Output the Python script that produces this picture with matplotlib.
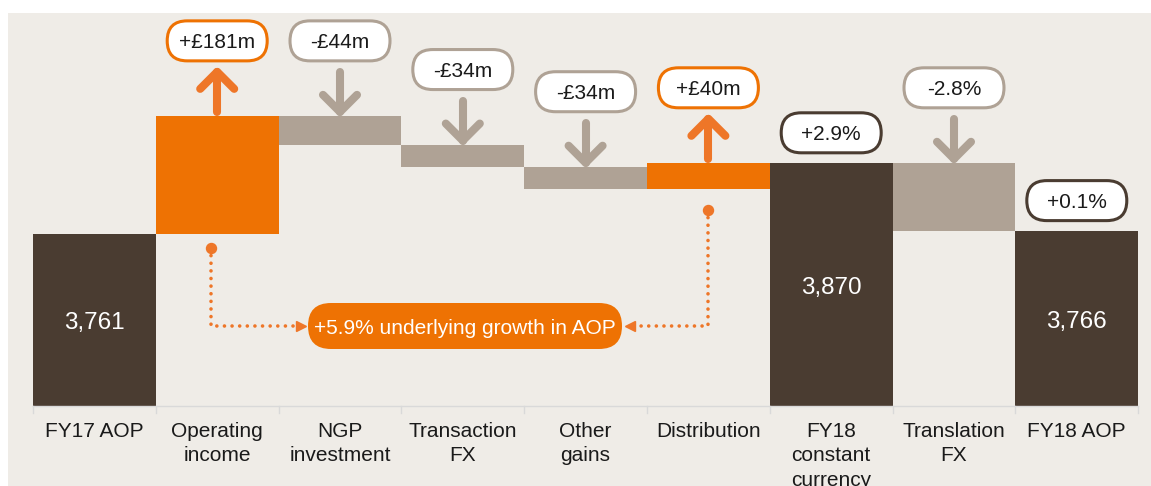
import matplotlib
matplotlib.use("Agg")
import matplotlib.pyplot as plt
from matplotlib.patches import FancyBboxPatch, Rectangle

plt.rcParams['font.family'] = ['Liberation Sans', 'DejaVu Sans']

# ---------------- data ----------------
categories = ["FY17 AOP", "Operating\nincome", "NGP\ninvestment", "Transaction\nFX",
              "Other\ngains", "Distribution", "FY18\nconstant\ncurrency",
              "Translation\nFX", "FY18 AOP"]
kinds = ["total", "delta", "delta", "delta", "delta", "delta", "total", "delta", "total"]
values = [3761, 181, -44, -34, -34, 40, 3870, -104, 3766]
change_labels = ["", "+£181m", "-£44m", "-£34m", "-£34m", "+£40m", "+2.9%", "-2.8%", "+0.1%"]
growth_label = "+5.9% underlying growth in AOP"

# ---------------- style ----------------
BROWN = "#4A3C31"
ORANGE = "#EE7203"
ARROW_OR = "#EE7628"
TAUPE = "#AFA295"
BG = "#EFECE7"
AXIS = "#D9D9D9"
TXT = "#1A1A1A"

W, H = 1151, 486
BASE = 3497          # value at the category axis line
X0_PX, STEP_PX = 33, 122.8
BASE_PX, SCALE = 406, 0.652

fig = plt.figure(figsize=(W / 100, H / 100), dpi=100, facecolor="white")
bg_rect = Rectangle((8 / W, 0), 1 - 8 / W, (H - 13) / H, transform=fig.transFigure,
                    facecolor=BG, edgecolor="none", zorder=-10)
fig.add_artist(bg_rect)

ax = fig.add_axes([0, 0, 1, 1])
ax.set_axis_off()
ax.patch.set_alpha(0)
ax.set_zorder(1)

bottoms, heights, colors = [], [], []
running = 0
for k, v in zip(kinds, values):
    if k == "total":
        running = v
        bottoms.append(BASE)
        heights.append(v - BASE)
        colors.append(BROWN)
    else:
        start = running
        running += v
        bottoms.append(min(start, running))
        heights.append(abs(v))
        colors.append(ORANGE if v > 0 else TAUPE)

xs = list(range(len(categories)))
ax.bar(xs, heights, bottom=bottoms, width=1.0, color=colors, linewidth=0, zorder=2)
ax.set_xlim(-0.5 - X0_PX / STEP_PX, -0.5 + (W - X0_PX) / STEP_PX)
ax.set_ylim(BASE - (H - BASE_PX) / SCALE, BASE + BASE_PX / SCALE)

# pixel overlay
axp = fig.add_axes([0, 0, 1, 1])
axp.set_xlim(0, W)
axp.set_ylim(H, 0)
axp.set_axis_off()
axp.patch.set_alpha(0)
axp.set_zorder(2)


def P(xd, yd):
    d = ax.transData.transform((xd, yd))
    return d[0], H - d[1]


# axis line and ticks
xl, yb = P(-0.5, BASE)
xr, _ = P(len(categories) - 0.5, BASE)
axp.plot([xl, xr], [yb, yb], color=AXIS, lw=1.0, zorder=3)
for i in range(len(categories) + 1):
    xt, _ = P(i - 0.5, BASE)
    axp.plot([xt, xt], [yb, yb + 7], color=AXIS, lw=1.0, zorder=3)

# category labels
for i, cat in enumerate(categories):
    cx, _ = P(i, BASE)
    axp.text(cx, yb + 16, cat, ha="center", va="top", fontsize=15,
             color=TXT, linespacing=1.36, zorder=4)


def chevron(cx, y_tip, y_tail, color):
    d = 1 if y_tail > y_tip else -1
    axp.plot([cx, cx], [y_tail, y_tip], color=color, lw=5.8,
             solid_capstyle="round", zorder=4)
    axp.plot([cx - 17, cx, cx + 17], [y_tip + d * 17, y_tip, y_tip + d * 17],
             color=color, lw=5.8, solid_capstyle="round", solid_joinstyle="round", zorder=4)


def label_box(cx, cy, text, ec):
    axp.add_patch(FancyBboxPatch((cx - 50, cy - 20), 100, 40,
                                 boxstyle="round,pad=0,rounding_size=20",
                                 facecolor="white", edgecolor=ec, lw=2.2, zorder=5))
    axp.text(cx, cy, text, ha="center", va="center_baseline", fontsize=15,
             color=TXT, zorder=6)


for i, k in enumerate(kinds):
    cx, top_px = P(i, bottoms[i] + heights[i])
    _, bot_px = P(i, bottoms[i])
    if k == "delta":
        up = values[i] > 0
        acol = ARROW_OR if up else TAUPE
        if up:
            chevron(cx, top_px - 44, top_px - 4, acol)
        else:
            chevron(cx, top_px - 4, top_px - 44, acol)
        label_box(cx, top_px - 75, change_labels[i], ORANGE if up else TAUPE)
    else:
        axp.text(cx, (top_px + bot_px) / 2 + 1, f"{values[i]:,}", ha="center",
                 va="center_baseline", fontsize=17.5, color="white", zorder=6)
        if change_labels[i]:
            label_box(cx, top_px - 30, change_labels[i], BROWN)

# underlying growth pill and dotted connectors
pill_cx, pill_cy, pill_w, pill_h = 465, 326, 314, 46
axp.add_patch(FancyBboxPatch((pill_cx - pill_w / 2, pill_cy - pill_h / 2), pill_w, pill_h,
                             boxstyle="round,pad=0,rounding_size=23",
                             facecolor=ORANGE, edgecolor="none", zorder=5))
axp.text(pill_cx, pill_cy, growth_label, ha="center", va="center_baseline",
         fontsize=15, color="white", zorder=6)

dot_style = dict(color=ARROW_OR, lw=2.6, linestyle=(0, (0.01, 2.1)),
                 dash_capstyle="round", zorder=4)

# left connector (from operating income)
lx, lbot = P(1, bottoms[1])
lx -= 6
ly0 = lbot + 14
lt = pill_cx - pill_w / 2 - 2
axp.plot([lx, lx, lt - 8], [ly0, pill_cy, pill_cy], **dot_style)
axp.plot([lx], [ly0], marker="o", markersize=7.2, color=ARROW_OR, zorder=4)
axp.plot([lt - 5], [pill_cy], marker=">", markersize=7.5, color=ARROW_OR, zorder=4, lw=0)

# right connector (from distribution)
rx, rbot = P(5, bottoms[5])
ry0 = rbot + 21
rt = pill_cx + pill_w / 2 + 3
axp.plot([rx, rx, rt + 8], [ry0, pill_cy, pill_cy], **dot_style)
axp.plot([rx], [ry0], marker="o", markersize=7.2, color=ARROW_OR, zorder=4)
axp.plot([rt + 5], [pill_cy], marker="<", markersize=7.5, color=ARROW_OR, zorder=4, lw=0)

fig.savefig("out.png", dpi=100, facecolor="white")
